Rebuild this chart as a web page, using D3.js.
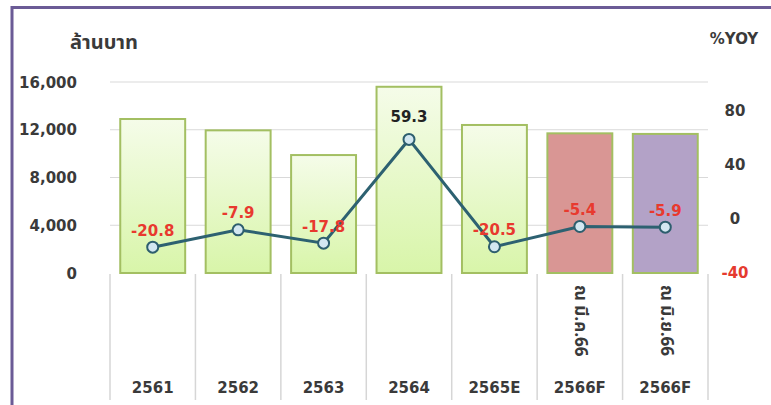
<!DOCTYPE html>
<html>
<head>
<meta charset="utf-8">
<script src="https://cdn.jsdelivr.net/npm/d3@7"></script>
<style>
    body { margin: 0; background: #ffffff; }
    text { font-family: "DejaVu Sans", Verdana, sans-serif; }
</style>
</head>
<body>
<svg id="vis-svg" width="771" height="405"></svg>
<script>
// Data
const categories = ['2561', '2562', '2563', '2564', '2565E', '2566F', '2566F']
const subLabels = ['', '', '', '', '', 'ณ มี.ค.66', 'ณ มิ.ย.66']
const revenue = [12900, 11950, 9880, 15600, 12400, 11700, 11650]
const yoy = [-20.8, -7.9, -17.8, 59.3, -20.5, -5.4, -5.9]
const leftTicks = [0, 4000, 8000, 12000, 16000]
const rightTicks = [-40, 0, 40, 80]

const svg = d3.select('#vis-svg')

const colorBarEdge = '#a3bf62'
const barFills = ['url(#greenGrad)', 'url(#greenGrad)', 'url(#greenGrad)', 'url(#greenGrad)', 'url(#greenGrad)', '#d99694', '#b3a2c7']
const thaiFont = 'Tahoma, "Noto Sans Thai", "Noto Sans", "DejaVu Sans", sans-serif'

// gradient for green bars
const grad = svg.append('defs').append('linearGradient')
    .attr('id', 'greenGrad')
    .attr('x1', 0).attr('y1', 0).attr('x2', 0).attr('y2', 1)
grad.append('stop').attr('offset', '0%').attr('stop-color', '#f5fce9')
grad.append('stop').attr('offset', '100%').attr('stop-color', '#d8f5a9')

// Scales
const xScale = d3.scaleBand()
    .domain(d3.range(categories.length))
    .range([110, 708])
    .padding(0)

const yLeft = d3.scaleLinear()
    .domain([0, 16000])
    .range([273, 82])

const yRight = d3.scaleLinear()
    .domain([-40, 102])
    .range([273, 82])

// Frame (purple border)
svg.append('path')
    .attr('d', 'M12,405 L12,7.5 L771,7.5')
    .attr('fill', 'none')
    .attr('stroke', '#6b5b96')
    .attr('stroke-width', 3)

// Gridlines
svg.append('g')
    .selectAll('line')
    .data(leftTicks.filter(d => d > 0))
    .join('line')
    .attr('x1', 110).attr('x2', 708)
    .attr('y1', d => yLeft(d)).attr('y2', d => yLeft(d))
    .attr('stroke', '#d9d9d9')
    .attr('stroke-width', 1)

// Category separators (table-like axis)
const seps = d3.range(categories.length + 1).map(i => i < categories.length ? xScale(i) : xScale.range()[1])
svg.append('g')
    .selectAll('line')
    .data(seps)
    .join('line')
    .attr('x1', d => d).attr('x2', d => d)
    .attr('y1', 274).attr('y2', 400)
    .attr('stroke', '#d6d6d6')
    .attr('stroke-width', 1.5)

// Bars
const barW = xScale.bandwidth() * 0.76
svg.append('g')
    .selectAll('rect')
    .data(revenue)
    .join('rect')
    .attr('x', (d, i) => xScale(i) + (xScale.bandwidth() - barW) / 2)
    .attr('y', d => yLeft(d))
    .attr('width', barW)
    .attr('height', d => yLeft(0) - yLeft(d))
    .attr('fill', (d, i) => barFills[i])
    .attr('stroke', colorBarEdge)
    .attr('stroke-width', 2)

// Left axis labels
svg.append('g')
    .selectAll('text')
    .data(leftTicks)
    .join('text')
    .attr('x', 77)
    .attr('y', d => yLeft(d) + 1)
    .attr('text-anchor', 'end')
    .attr('dominant-baseline', 'middle')
    .style('font-size', '15px')
    .style('font-weight', 'bold')
    .style('fill', '#3a3a3a')
    .text(d => d3.format(',')(d))

// Right axis labels
svg.append('g')
    .selectAll('text')
    .data(rightTicks)
    .join('text')
    .attr('x', 735)
    .attr('y', d => yRight(d))
    .attr('text-anchor', 'middle')
    .attr('dominant-baseline', 'middle')
    .style('font-size', '15px')
    .style('font-weight', 'bold')
    .style('fill', d => d < 0 ? '#e53a2f' : '#3a3a3a')
    .text(d => String(d))

// Axis titles
svg.append('text')
    .attr('x', 104).attr('y', 43)
    .attr('text-anchor', 'middle')
    .attr('dominant-baseline', 'middle')
    .style('font-family', thaiFont)
    .style('font-size', '20px')
    .style('font-weight', 'bold')
    .style('fill', '#3a3a3a')
    .text('ล้านบาท')

svg.append('text')
    .attr('x', 734).attr('y', 39)
    .attr('text-anchor', 'middle')
    .attr('dominant-baseline', 'middle')
    .style('font-size', '15px')
    .style('font-weight', 'bold')
    .style('fill', '#3a3a3a')
    .text('%YOY')

// Category labels
svg.append('g')
    .selectAll('text')
    .data(categories)
    .join('text')
    .attr('x', (d, i) => xScale(i) + xScale.bandwidth() / 2)
    .attr('y', 388)
    .attr('text-anchor', 'middle')
    .attr('dominant-baseline', 'middle')
    .style('font-size', '15px')
    .style('font-weight', 'bold')
    .style('fill', '#3a3a3a')
    .text(d => d)

// Rotated sub labels
svg.append('g')
    .selectAll('text')
    .data(subLabels)
    .join('text')
    .attr('transform', (d, i) => `translate(${xScale(i) + xScale.bandwidth() / 2},285) rotate(90)`)
    .attr('text-anchor', 'start')
    .attr('dominant-baseline', 'middle')
    .style('font-family', thaiFont)
    .style('font-size', '17px')
    .style('font-weight', 'bold')
    .style('fill', '#3a3a3a')
    .text(d => d)

// YoY line
const cx = i => xScale(i) + xScale.bandwidth() / 2
const line = d3.line()
    .x((d, i) => cx(i))
    .y(d => yRight(d))

svg.append('path')
    .datum(yoy)
    .attr('d', line)
    .attr('fill', 'none')
    .attr('stroke', '#2d6171')
    .attr('stroke-width', 3)

svg.append('g')
    .selectAll('circle')
    .data(yoy)
    .join('circle')
    .attr('cx', (d, i) => cx(i))
    .attr('cy', d => yRight(d))
    .attr('r', 5.5)
    .attr('fill', '#d3e7f1')
    .attr('stroke', '#2d5e6e')
    .attr('stroke-width', 2)

// Data labels
svg.append('g')
    .selectAll('text')
    .data(yoy)
    .join('text')
    .attr('x', (d, i) => cx(i))
    .attr('y', d => yRight(d) - (d > 0 ? 22 : 16))
    .attr('text-anchor', 'middle')
    .attr('dominant-baseline', 'middle')
    .style('font-size', '15px')
    .style('font-weight', 'bold')
    .style('fill', d => d < 0 ? '#e8392e' : '#222222')
    .text(d => d.toFixed(1))
</script>
</body>
</html>
